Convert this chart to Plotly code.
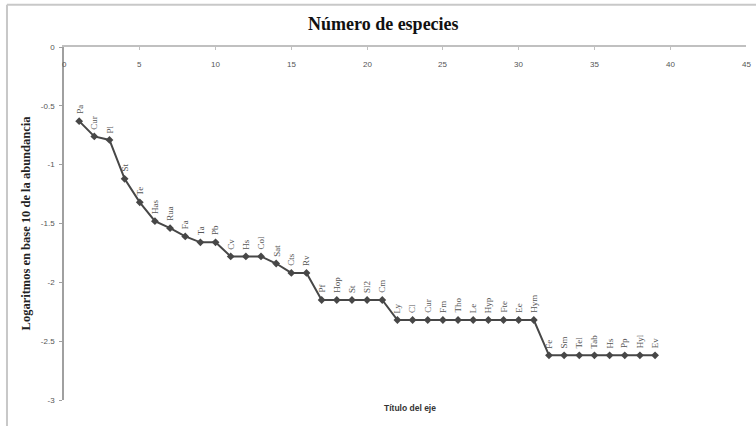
import plotly.graph_objects as go

# Rank of each species and log10 of its relative abundance
rank = list(range(1, 40))
species = ["Pa", "Cur", "Pl", "St", "Te", "Has", "Rua", "Fa", "Ta", "Pb",
           "Cv", "Hs", "Col", "Sat", "Cts", "Rv", "Pf", "Hop", "St", "Sl2",
           "Cm", "Ly", "Cl", "Cur", "Fm", "Tho", "Le", "Hyp", "Fte", "Ee",
           "Hym", "Fe", "Sm", "Tel", "Tab", "Hs", "Pp", "Hyl", "Ev"]
log_abund = [-0.63, -0.76, -0.79, -1.12, -1.32, -1.48, -1.54, -1.61, -1.66, -1.66,
             -1.78, -1.78, -1.78, -1.84, -1.92, -1.92, -2.15, -2.15, -2.15, -2.15,
             -2.15, -2.32, -2.32, -2.32, -2.32, -2.32, -2.32, -2.32, -2.32, -2.32,
             -2.32, -2.62, -2.62, -2.62, -2.62, -2.62, -2.62, -2.62, -2.62]

x_ticks = [0, 5, 10, 15, 20, 25, 30, 35, 40, 45]
y_ticks = [0, -0.5, -1, -1.5, -2, -2.5, -3]
y_tick_text = ["0", "-0.5", "-1", "-1.5", "-2", "-2.5", "-3"]

serif = "Liberation Serif, Times New Roman, serif"
sans = "Liberation Sans, Arial, sans-serif"

fig = go.Figure()
fig.add_trace(go.Scatter(
    x=rank, y=log_abund, mode="lines+markers",
    line=dict(color="#474747", width=2),
    marker=dict(symbol="diamond", size=6, color="#474747"),
    showlegend=False, hoverinfo="skip",
))

# Species name above each point, rotated vertically
for xi, yi, name in zip(rank, log_abund, species):
    fig.add_annotation(
        x=xi, y=yi, xref="x", yref="y", text=name, showarrow=False,
        textangle=-90, xanchor="center", yanchor="bottom", yshift=5,
        font=dict(family=serif, size=9, color="#555555"),
    )

# Category-axis tick labels sit just under the axis line at y = 0
for xv in x_ticks:
    fig.add_annotation(
        x=xv, y=0, xref="x", yref="y", text=str(xv), showarrow=False,
        xanchor="center", yanchor="top", yshift=-11,
        font=dict(family=sans, size=8, color="#555555"),
    )

fig.add_annotation(
    x=0.508, y=-0.023, xref="paper", yref="paper", text="<b>Título del eje</b>",
    showarrow=False, xanchor="center", yanchor="middle",
    font=dict(family=sans, size=8.5, color="#333333"),
)

# Chart-area frame along the left and top edges
fig.add_shape(type="line", xref="paper", yref="paper",
              x0=-0.0836, x1=-0.0836, y0=1.12, y1=-0.09,
              line=dict(color="#c8c8c8", width=2))
fig.add_shape(type="line", xref="paper", yref="paper",
              x0=-0.0836, x1=1.02, y0=1.12, y1=1.12,
              line=dict(color="#c8c8c8", width=2))

fig.update_layout(
    width=756, height=426,
    margin=dict(l=64, r=10, t=47, b=26),
    paper_bgcolor="white", plot_bgcolor="white",
    title=dict(text="<b>Número de especies</b>", x=0.507, xanchor="center",
               y=0.945, yanchor="middle",
               font=dict(family=serif, size=18, color="#111111")),
)
fig.update_xaxes(
    range=[0, 45], tickvals=x_ticks, side="top", showticklabels=False,
    showline=True, linecolor="#c0c0c0", linewidth=1.5,
    ticks="inside", ticklen=3, tickcolor="#c0c0c0",
    showgrid=False, zeroline=False,
)
fig.update_yaxes(
    range=[-3, 0], tickvals=y_ticks, ticktext=y_tick_text,
    showline=True, linecolor="#a0a0a0", linewidth=1.5,
    ticks="outside", ticklen=3, tickcolor="#a0a0a0",
    ticklabelstandoff=3,
    showgrid=False, zeroline=False,
    tickfont=dict(family=sans, size=8, color="#555555"),
    title=dict(text="<b>Logaritmos en base 10 de la abundancia</b>", standoff=7,
               font=dict(family=serif, size=12.5, color="#222222")),
)

fig.write_html("out.html")
